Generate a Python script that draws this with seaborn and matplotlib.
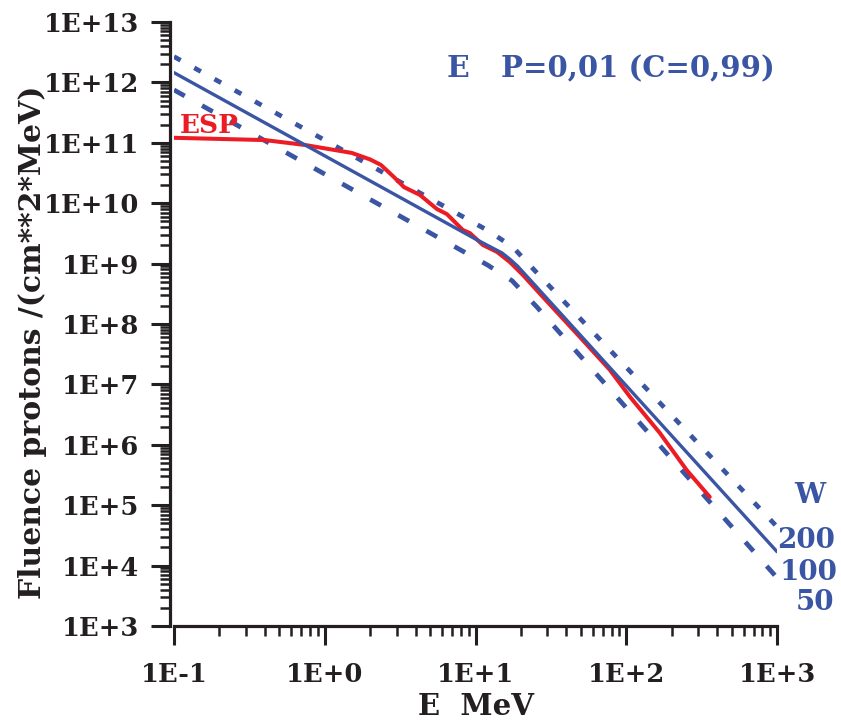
import numpy as np
import matplotlib
matplotlib.use("Agg")
import matplotlib.pyplot as plt
import seaborn as sns
from matplotlib.ticker import LogLocator, FuncFormatter, NullFormatter

# ESP spectrum (red), energy in MeV, fluence in protons/(cm**2*MeV)
esp_e = [0.1, 0.40, 0.74, 1.51, 2.0, 2.36, 2.88, 3.35, 3.91, 4.28, 5.55, 6.46,
         8.24, 9.18, 11.2, 13.9, 16.9, 20.6, 28.0, 49.2, 77.8, 106, 167, 252, 358]
esp_f = [1.21e11, 1.11e11, 9.2e10, 6.8e10, 5.3e10, 4.3e10, 2.7e10, 1.85e10, 1.53e10,
         1.37e10, 8.0e9, 6.6e9, 3.6e9, 3.2e9, 2.03e9, 1.56e9, 1.06e9, 6.5e8, 2.8e8,
         6.1e7, 1.74e7, 6.2e6, 1.57e6, 3.8e5, 1.37e5]

# model spectra for W = 100 (solid), 200 (dotted), 50 (dashed)
w100_e = [0.1, 10, 15, 17, 19, 25, 1000]
w100_f = [1.45e12, 2.55e9, 1.5e9, 1.17e9, 9.1e8, 4.3e8, 1.7e4]
w200_e = [0.1, 12, 17.7, 22.2, 1000]
w200_f = [2.67e12, 3.56e9, 1.88e9, 1.02e9, 4.4e4]
w50_e = [0.1, 12, 17.5, 25.6, 1000]
w50_f = [7.5e11, 9.5e8, 5.2e8, 1.9e8, 6.3e3]

blue = "#3a55a3"
red = "#ec1c24"
ink = "#231f20"

sns.set_style("ticks")
plt.rcParams["font.family"] = ["DejaVu Serif"]
plt.rcParams["font.weight"] = "bold"
plt.rcParams["axes.labelweight"] = "bold"

W, H = 841, 728
fig = plt.figure(figsize=(W / 100, H / 100), dpi=100)
ax = fig.add_axes([174 / W, 102 / H, 603 / W, 604 / H])
ax.set_xscale("log")
ax.set_yscale("log")

sns.lineplot(x=w200_e, y=w200_f, color=blue, lw=3.4, ls=(0, (1.6, 3.3)), estimator=None, ax=ax)
sns.lineplot(x=w50_e, y=w50_f, color=blue, lw=3.4, ls=(0, (2.6, 4.2)), estimator=None, ax=ax)
sns.lineplot(x=esp_e, y=esp_f, color=red, lw=2.9, estimator=None, ax=ax)
sns.lineplot(x=w100_e, y=w100_f, color=blue, lw=2.4, estimator=None, ax=ax)

ax.set_xlim(0.1, 1000)
ax.set_ylim(1e3, 1e13)

fmt = FuncFormatter(lambda v, p: f"1E{int(round(np.log10(v))):+d}")
for axis in (ax.xaxis, ax.yaxis):
    axis.set_major_locator(LogLocator(base=10, numticks=20))
    axis.set_minor_locator(LogLocator(base=10, subs=np.arange(2, 10), numticks=20))
    axis.set_major_formatter(fmt)
    axis.set_minor_formatter(NullFormatter())

ax.tick_params(which="both", bottom=True, left=True, direction="out")
ax.tick_params(which="major", length=14, width=2.2, color=ink, labelcolor=ink, labelsize=18.5)
ax.tick_params(which="minor", length=7, width=1.8, color=ink)
ax.tick_params(axis="y", which="major", pad=8)
ax.tick_params(axis="x", which="major", pad=12)
for lab in ax.get_xticklabels() + ax.get_yticklabels():
    lab.set_fontweight("bold")

sns.despine(ax=ax)
for s in ("left", "bottom"):
    ax.spines[s].set_linewidth(2.3)
    ax.spines[s].set_color(ink)
ax.spines["left"].set_position(("outward", 3))

ax.set_xlabel("E  MeV", fontsize=21, fontweight="bold", color=ink, va="baseline")
ax.xaxis.set_label_coords(0.5, (626 - 715) / 604)
fig.text(33 / W, 1 - 342 / H, "Fluence protons /(cm**2*MeV)", rotation=90,
         ha="center", va="center", fontsize=21.5, fontweight="bold", color=ink)

fig.text(447 / W, 1 - 77 / H, "E", fontsize=21.5, color=blue, va="baseline")
fig.text(501 / W, 1 - 77 / H, "P=0,01 (C=0,99)", fontsize=21, color=blue, va="baseline")
fig.text(180 / W, 1 - 133 / H, "ESP", fontsize=19, color=red, va="baseline")
fig.text(810 / W, 1 - 503 / H, "W", fontsize=20, color=blue, ha="center", va="baseline")
fig.text(835 / W, 1 - 548 / H, "200", fontsize=20, color=blue, ha="right", va="baseline")
fig.text(837 / W, 1 - 580 / H, "100", fontsize=20, color=blue, ha="right", va="baseline")
fig.text(834 / W, 1 - 610 / H, "50", fontsize=20, color=blue, ha="right", va="baseline")

fig.savefig("out.png", dpi=100)
